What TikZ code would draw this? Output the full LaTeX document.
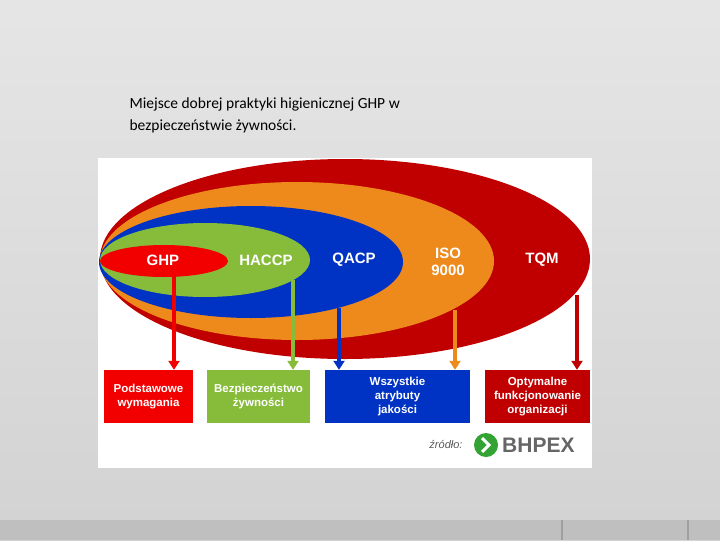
\documentclass[tikz,border=0pt]{standalone}
\usepackage{fontspec}
\setmainfont{Carlito}
\newfontfamily\labelfont{Liberation Sans}
\usetikzlibrary{arrows.meta,positioning}
\definecolor{tqmred}{HTML}{C00000}
\definecolor{isoorange}{HTML}{EE8A1C}
\definecolor{qacpblue}{HTML}{0033C4}
\definecolor{haccpgreen}{HTML}{86BC3A}
\definecolor{ghpred}{HTML}{F20000}
\begin{document}
\begin{tikzpicture}[x=1pt,y=-1pt]
    % styles
    \tikzset{
        lbl/.style={text=white, font=\labelfont\bfseries\fontsize{15}{17}\selectfont, align=center},
        goalbox/.style={rectangle, minimum height=53pt, inner sep=2pt, text=white, align=center,
            font=\labelfont\bfseries\fontsize{11.5}{14}\selectfont},
        arr/.style={line width=3.5pt, -{Triangle[length=9pt,width=11pt]}},
    }

    % tlo
    \shade[top color=gray!20, bottom color=gray!35] (0,0) rectangle (720,540);
    \fill[gray!50] (0,520) rectangle (720,540);
    \draw[gray!75, line width=1.5pt] (562,520) -- (562,540) (688,520) -- (688,540);
    \path[use as bounding box] (0,0) rectangle (720,540);

    % tytul
    \node[anchor=west, align=left, font=\fontsize{15.5}{22}\selectfont] (title) at (126,115)
        {Miejsce dobrej praktyki higienicznej GHP w\\bezpieczeństwie żywności.};

    % obraz
    \fill[white] (98,158) rectangle (592,468);

    % elipsy
    \fill[tqmred] (345,259) ellipse [x radius=245, y radius=100];
    \fill[isoorange] (297,261) ellipse [x radius=197, y radius=79];
    \fill[qacpblue] (251,262) ellipse [x radius=152, y radius=56];
    \fill[haccpgreen] (205,260) ellipse [x radius=105, y radius=37];
    \fill[ghpred] (164,261) ellipse [x radius=64, y radius=16];

    \node[lbl] (ghp) at (163,260) {GHP};
    \node[lbl] (haccp) at (266,260) {HACCP};
    \node[lbl] (qacp) at (354,260) {QACP};
    \node[lbl] (iso) at (448,262) {ISO\\9000};
    \node[lbl] (tqm) at (542,260) {TQM};

    % cele
    \node[goalbox, fill=ghpred, minimum width=89pt] (podst) at (148.5,396.5) {Podstawowe\\wymagania};
    \node[goalbox, fill=haccpgreen, minimum width=103pt] (bezp) at (258.5,396.5) {Bezpieczeństwo\\żywności};
    \node[goalbox, fill=qacpblue, minimum width=145pt] (attr) at (397.5,396.5) {Wszystkie\\atrybuty\\jakości};
    \node[goalbox, fill=tqmred, minimum width=105pt] (opt) at (537.5,396.5) {Optymalne\\funkcjonowanie\\organizacji};

    % strzalki
    \coordinate (sghp) at (174,274);
    \coordinate (shaccp) at (293,280);
    \coordinate (sqacp) at (339,308);
    \coordinate (siso) at (455,310);
    \coordinate (stqm) at (577,295);
    \draw[arr, ghpred] (sghp) -- (sghp |- podst.north);
    \draw[arr, haccpgreen] (shaccp) -- (shaccp |- bezp.north);
    \draw[arr, qacpblue] (sqacp) -- (sqacp |- attr.north);
    \draw[arr, isoorange] (siso) -- (siso |- attr.north);
    \draw[arr, tqmred] (stqm) -- (stqm |- opt.north);

    % zrodlo
    \node[font=\labelfont\itshape\fontsize{11}{12}\selectfont, text=gray!70!black] (src) at (446,445) {źródło:};
    \fill[green!55!black!80] (486,445) circle [radius=12];
    \draw[white, line width=3pt] (482,438) -- (489,445) -- (482,452);
    \node[font=\labelfont\bfseries\fontsize{21}{22}\selectfont, text=gray!80!black, anchor=west, inner sep=0pt] (logo) at (502,445) {BHPEX};
\end{tikzpicture}
\end{document}
